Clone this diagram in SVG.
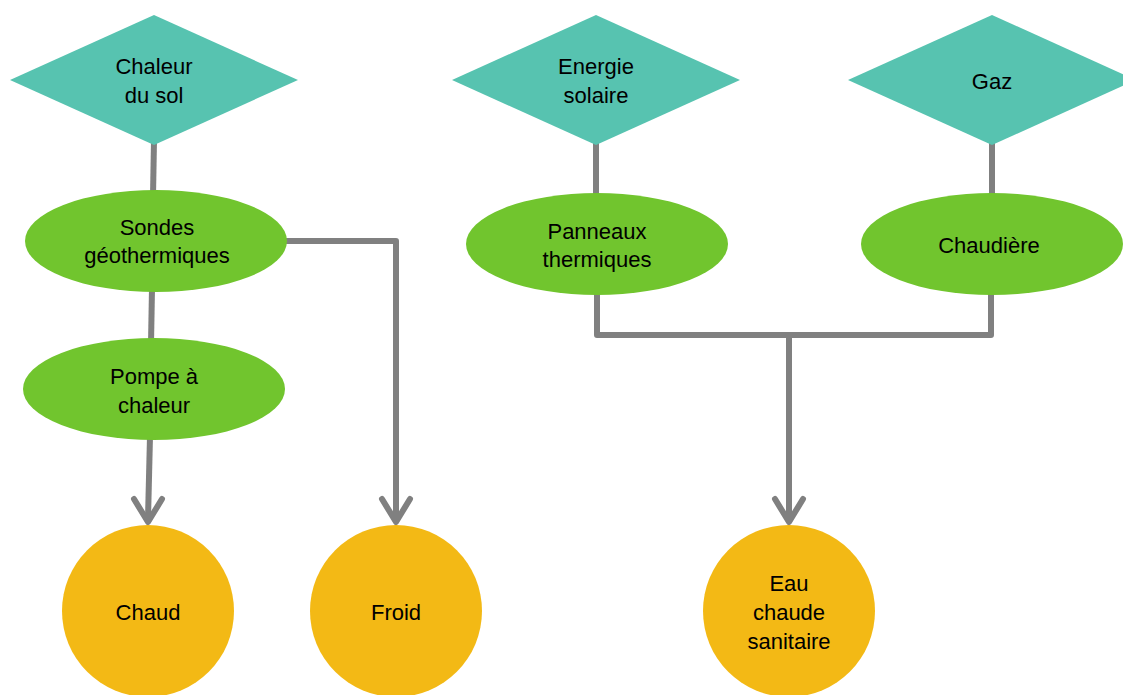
<svg xmlns="http://www.w3.org/2000/svg" width="1123" height="695" viewBox="0 0 1123 695">
<defs>
<style>
.src{fill:#57C3B0}
.proc{fill:#71C52E}
.out{fill:#F3B915}
text{font-family:"Liberation Sans",Arial,sans-serif;font-size:22px;fill:#000;text-anchor:middle}
.c{fill:none;stroke:#808080;stroke-width:6;stroke-linejoin:round}
.ah{fill:none;stroke:#808080;stroke-width:6;stroke-linecap:round;stroke-linejoin:round}
</style>
</defs>
<rect width="1123" height="695" fill="#fff"/>
<g id="connectors">
<line class="c" x1="154" y1="140" x2="153" y2="196"/>
<line class="c" x1="152" y1="288" x2="151" y2="344"/>
<line class="c" x1="150" y1="436" x2="148" y2="519"/>
<path class="ah" d="M134 499 L148 522 L162 499"/>
<polyline class="c" points="284,241 396,241 396,519"/>
<path class="ah" d="M382 499 L396 522 L410 499"/>
<line class="c" x1="596" y1="140" x2="596" y2="196"/>
<line class="c" x1="992" y1="140" x2="992" y2="196"/>
<polyline class="c" points="597,290 597,335 991,335 991,290"/>
<line class="c" x1="789" y1="335" x2="789" y2="519"/>
<path class="ah" d="M775 499 L789 522 L803 499"/>
</g>
<g id="chaleur-du-sol">
<polygon class="src" points="10,80 154,15 298,80 154,145"/>
<text x="154" y="74">Chaleur</text>
<text x="154" y="103">du sol</text>
</g>
<g id="energie-solaire">
<polygon class="src" points="452,80 596,15 740,80 596,145"/>
<text x="596" y="74">Energie</text>
<text x="596" y="103">solaire</text>
</g>
<g id="gaz">
<polygon class="src" points="848,80 992,15 1136,80 992,145"/>
<text x="992" y="89">Gaz</text>
</g>
<g id="sondes">
<ellipse class="proc" cx="156" cy="241" rx="131" ry="51"/>
<text x="157" y="235">Sondes</text>
<text x="157" y="263">géothermiques</text>
</g>
<g id="pompe">
<ellipse class="proc" cx="154" cy="389" rx="131" ry="51"/>
<text x="154" y="384">Pompe à</text>
<text x="154" y="413">chaleur</text>
</g>
<g id="panneaux">
<ellipse class="proc" cx="597" cy="244" rx="131" ry="51"/>
<text x="597" y="239">Panneaux</text>
<text x="597" y="267">thermiques</text>
</g>
<g id="chaudiere">
<ellipse class="proc" cx="992" cy="244" rx="131" ry="51"/>
<text x="989" y="253">Chaudière</text>
</g>
<g id="chaud">
<circle class="out" cx="148" cy="611" r="86"/>
<text x="148" y="620">Chaud</text>
</g>
<g id="froid">
<circle class="out" cx="396" cy="611" r="86"/>
<text x="396" y="620">Froid</text>
</g>
<g id="eau-chaude">
<circle class="out" cx="789" cy="611" r="86"/>
<text x="789" y="591">Eau</text>
<text x="789" y="620">chaude</text>
<text x="789" y="649">sanitaire</text>
</g>
</svg>
